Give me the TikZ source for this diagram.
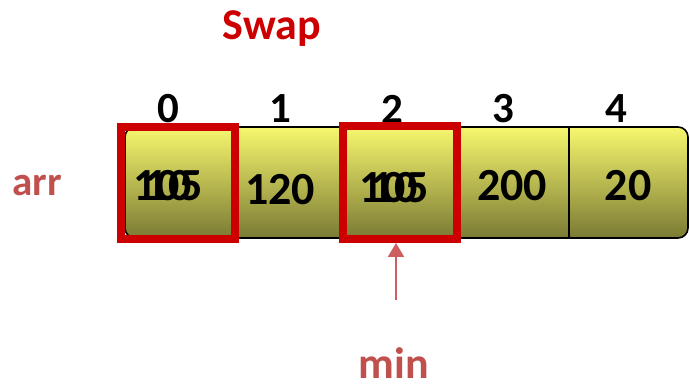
\documentclass[tikz,border=0pt]{standalone}
\usepackage{fontspec}
\setmainfont{Carlito}
\usetikzlibrary{arrows.meta}
\definecolor{swapred}{RGB}{204,0,0}
\definecolor{accred}{RGB}{192,80,77}
\definecolor{arrred}{RGB}{205,95,95}
\definecolor{ytop}{RGB}{247,247,110}
\definecolor{ybot}{RGB}{122,122,52}
\tikzset{
  idx/.style={font=\fontsize{43}{43}\selectfont\bfseries, inner sep=0pt},
  val/.style={font=\fontsize{46}{46}\selectfont\bfseries, inner sep=0pt},
  lbl/.style={font=\fontsize{41}{41}\selectfont\bfseries, text=accred, inner sep=0pt, anchor=base},
  redbox/.style={draw=swapred, line width=8pt},
  divider/.style={draw=black, line width=1.5pt},
}
\begin{document}
\begin{tikzpicture}[x=1pt,y=-1pt]
\useasboundingbox (0,0) rectangle (689,387);
% array body
\path[top color=ytop, bottom color=ybot, draw=black, line width=1.6pt, rounded corners=10pt]
  (125,127) rectangle (688,238);
\draw[divider] (234,127) -- (234,238);
\draw[divider] (345,127) -- (345,238);
\draw[divider] (457,127) -- (457,238);
\draw[divider] (569,127) -- (569,238);
% indices
\node[idx] (i0) at (168,109) {0};
\node[idx] (i1) at (280,109) {1};
\node[idx] (i2) at (392,109) {2};
\node[idx] (i3) at (503,109) {3};
\node[idx] (i4) at (616,109) {4};
% values
\node[val] (v0a) at (168,186) {105};
\node[val] (v0b) at (168,186) {10};
\node[val] (v1) at (280,190) {120};
\node[val] (v2a) at (394,188) {105};
\node[val] (v2b) at (394,188) {10};
\node[val] (v3) at (512,186) {200};
\node[val] (v4) at (628,186) {20};
% red boxes
\node[redbox, minimum width=113.5pt, minimum height=112pt, inner sep=0pt] (r0) at (177.75,183) {};
\node[redbox, minimum width=114pt, minimum height=113pt, inner sep=0pt] (r2) at (400,182.5) {};
% labels
\node[font=\fontsize{44}{44}\selectfont\bfseries, text=swapred, inner sep=0pt, anchor=base] (swap) at (272,40) {Swap};
\node[lbl] (arr) at (37,196) {arr};
\node[lbl, font=\fontsize{44}{44}\selectfont\bfseries] (min) at (394,379) {min};
% arrow
\coordinate (mintop) at (396,300);
\draw[arrred, line width=2pt, -{Triangle[width=16pt,length=14pt]}] (mintop) -- (mintop |- r2.south);
\end{tikzpicture}
\end{document}
